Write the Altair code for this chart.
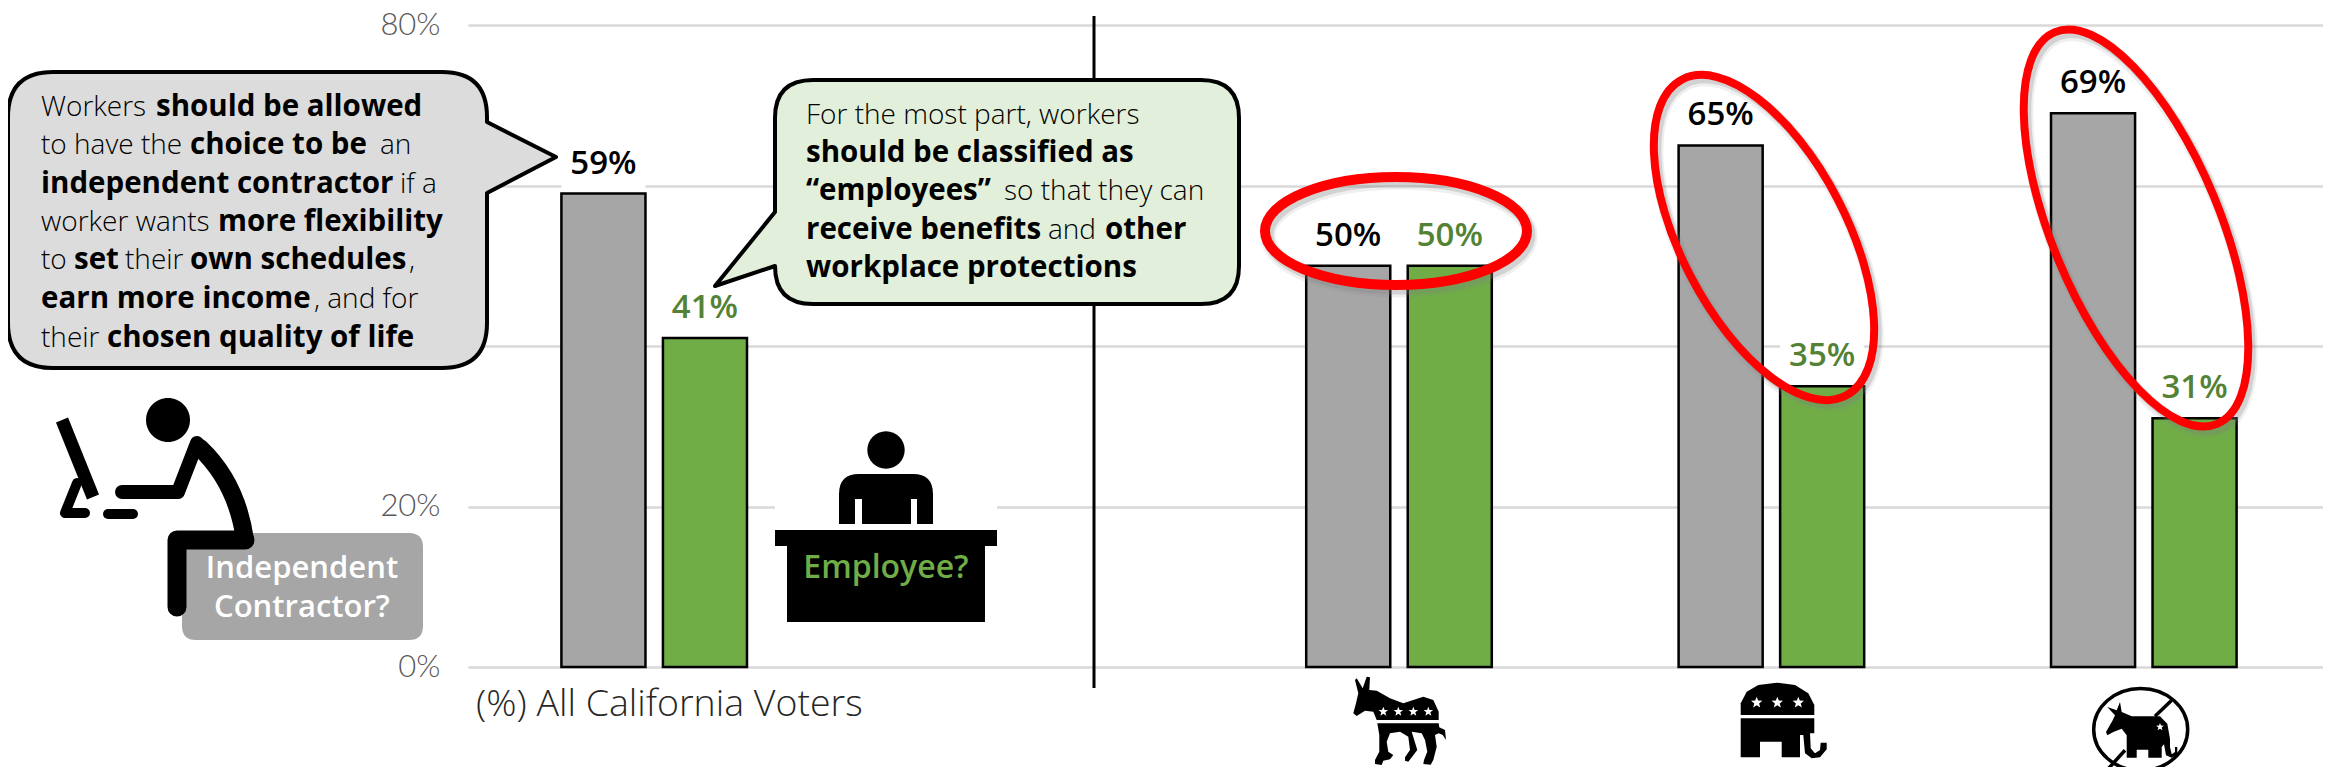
import math
import altair as alt

# ---- data ----
groups = ["All California Voters", "gap", "Democrats", "Republicans", "No Party"]
shown = ["All California Voters", "Democrats", "Republicans", "No Party"]
independent = [59, 50, 65, 69]
employee = [41, 50, 35, 31]
series = ["Independent Contractor", "Employee"]
ticks = [0, 20, 40, 60, 80]
axis_note = "(%) All California Voters"

rows = []
for g, a, b in zip(shown, independent, employee):
    rows.append({"group": g, "series": series[0], "value": a, "top": a + 6})
    rows.append({"group": g, "series": series[1], "value": b, "top": b + 6})

FONT = "Open Sans"
AXIS_FONT = "Lato"
OX, OY = 468, 25
GRAY, GREEN, GREEN_TXT = "#a6a6a6", "#70ad47", "#548235"
dummy = alt.Data(values=[{"k": 0}])

x = alt.X("group:N", scale=alt.Scale(domain=groups, paddingInner=0, paddingOuter=0, range=[0, 1862]),
          axis=alt.Axis(labels=False, ticks=False, domain=False, title=None, grid=False))
xo = alt.XOffset("series:N", scale=alt.Scale(domain=series, paddingInner=0.172, paddingOuter=0.92))
y = alt.Y("value:Q", scale=alt.Scale(domain=[0, 80], nice=False),
          axis=alt.Axis(values=ticks, title=None, domain=False, ticks=False, grid=True,
                        gridColor="#d9d9d9", gridWidth=2.5, labelExpr="datum.value + '%'",
                        labelFont=AXIS_FONT, labelFontSize=31, labelFontWeight=300, labelColor="#595959",
                        labelPadding=28))


def shape(path, fill=None, stroke=None, sw=0, opacity=1.0, cap=None, dx=0, dy=0):
    """A freeform drawn in reference pixel coordinates (size 4 = unit scale)."""
    kw = dict(shape=path, size=4, opacity=opacity, filled=fill is not None, strokeJoin="round")
    if fill is not None:
        kw["fill"] = fill
    if stroke is not None:
        kw["stroke"] = stroke
        kw["strokeWidth"] = sw
    else:
        kw["strokeWidth"] = 0
    if cap:
        kw["strokeCap"] = cap
    return alt.Chart(dummy).mark_point(**kw).encode(x=alt.value(-OX + dx), y=alt.value(-OY + dy))


def line(pts, k=1.0, ox=0, oy=0):
    return "M" + "L".join(f"{ox + a * k:.1f},{oy + b * k:.1f}" for a, b in pts)


def poly(pts, k=1.0, ox=0, oy=0):
    return line(pts, k, ox, oy) + "Z"


def circle(cx, cy, rx, ry=None):
    ry = ry or rx
    c = 0.5523
    return (f"M{cx - rx},{cy}C{cx - rx},{cy - c * ry} {cx - c * rx},{cy - ry} {cx},{cy - ry}"
            f"C{cx + c * rx},{cy - ry} {cx + rx},{cy - c * ry} {cx + rx},{cy}"
            f"C{cx + rx},{cy + c * ry} {cx + c * rx},{cy + ry} {cx},{cy + ry}"
            f"C{cx - c * rx},{cy + ry} {cx - rx},{cy + c * ry} {cx - rx},{cy}Z")


def star(cx, cy, r):
    pts = []
    for i in range(10):
        t = -math.pi / 2 + i * math.pi / 5
        q = r if i % 2 == 0 else r * 0.42
        pts.append((cx + q * math.cos(t), cy + q * math.sin(t)))
    return poly(pts)


def rrect(l, t, r, b, q):
    return (f"M{l + q},{t}L{r - q},{t}Q{r},{t} {r},{t + q}L{r},{b - q}Q{r},{b} {r - q},{b}"
            f"L{l + q},{b}Q{l},{b} {l},{b - q}L{l},{t + q}Q{l},{t} {l + q},{t}Z")


def label(txt, px, py, size=28, weight=400, color="#000000", align="left", font=FONT):
    return alt.Chart(dummy).mark_text(text=txt, font=font, fontSize=size, fontWeight=weight,
                                      color=color, align=align, baseline="alphabetic").encode(
        x=alt.value(px - OX), y=alt.value(py - OY))


def run(px, py, t, bold):
    return label(t, px, py, size=29.5 if bold else 28, weight=700 if bold else 300)


def ellipse(cx, cy, a, b, angle, color, sw, opacity=1.0):
    c = 0.5523
    r = b / a
    path = (f"M{-r:.4f},0C{-r:.4f},{-c} {-c * r:.4f},-1 0,-1C{c * r:.4f},-1 {r:.4f},{-c} {r:.4f},0"
            f"C{r:.4f},{c} {c * r:.4f},1 0,1C{-c * r:.4f},1 {-r:.4f},{c} {-r:.4f},0Z")
    return alt.Chart(dummy).mark_point(shape=path, size=(2 * a) ** 2, angle=angle, filled=False,
                                       stroke=color, strokeWidth=sw, opacity=opacity).encode(
        x=alt.value(cx - OX), y=alt.value(cy - OY))


layers = []

# divider
layers.append(alt.Chart(dummy).mark_rule(color="#000000", strokeWidth=3).encode(
    x=alt.value(1094 - OX), y=alt.value(16 - OY), y2=alt.value(688 - OY)))

# white plate behind data labels, bars, data labels
base = alt.Chart(alt.Data(values=rows))
layers.append(base.mark_bar(color="#ffffff", strokeWidth=0).encode(x=x, xOffset=xo, y=y, y2="top:Q"))
layers.append(base.mark_bar(stroke="#000000", strokeWidth=2.5).encode(
    x=x, xOffset=xo, y=y,
    color=alt.Color("series:N", scale=alt.Scale(domain=series, range=[GRAY, GREEN]), legend=None)))
layers.append(base.transform_calculate(lab="datum.value + '%'").mark_text(
    font=FONT, fontSize=33, fontWeight=600, baseline="alphabetic", dy=-20).encode(
    x=x, xOffset=xo, y=y, text="lab:N",
    color=alt.condition("datum.series === 'Employee'", alt.value(GREEN_TXT), alt.value("#000000"))))

# bubble 1
b1 = ("M53,72L442,72Q487,72 487,117L487,122L556,157L487,193L487,323Q487,368 442,368"
      "L53,368Q8,368 8,323L8,117Q8,72 53,72Z")
layers.append(shape(b1, fill="#dcdcdc", stroke="#000000", sw=4))
b1_text = [
    (41, 116, "Workers", False), (156, 116, "should be allowed", True),
    (41, 154, "to have the", False), (190, 154, "choice to be", True), (380, 154, "an", False),
    (41, 193, "independent contractor", True), (400, 193, "if a", False),
    (41, 231, "worker wants", False), (218, 231, "more flexibility", True),
    (41, 269, "to", False), (74, 269, "set", True), (125, 269, "their", False),
    (190, 269, "own schedules", True), (409, 269, ",", False),
    (41, 308, "earn more income", True), (314, 308, ", and for", False),
    (41, 347, "their", False), (107, 347, "chosen quality of life", True),
]
for item in b1_text:
    layers.append(run(*item))

# bubble 2
b2 = ("M813,80L1201,80Q1239,80 1239,118L1239,266Q1239,304 1201,304L813,304Q775,304 775,266"
      "L715,286L775,212L775,118Q775,80 813,80Z")
layers.append(shape(b2, fill="#e2efda", stroke="#000000", sw=4))
b2_text = [
    (806, 124, "For the most part, workers", False),
    (806, 162, "should be classified as", True),
    (806, 200, "\u201cemployees\u201d", True), (1004, 200, "so that they can", False),
    (806, 239, "receive benefits", True), (1048, 239, "and", False), (1105, 239, "other", True),
    (806, 277, "workplace protections", True),
]
for item in b2_text:
    layers.append(run(*item))

# contractor pill + person
layers.append(shape(rrect(182, 533, 423, 640, 14), fill=GRAY))
layers.append(shape(circle(168, 420, 22), fill="#000000"))
layers.append(shape(line([(62, 420), (93, 497)]), stroke="#000000", sw=13))
layers.append(shape(line([(77, 483), (65, 513), (85, 513)]), stroke="#000000", sw=10, cap="round"))
layers.append(shape(line([(108, 514), (133, 514)]), stroke="#000000", sw=10, cap="round"))
layers.append(shape(line([(122, 492), (178, 492), (197, 443)]), stroke="#000000", sw=14, cap="round"))
layers.append(shape("M200,448Q237,483 245,540", stroke="#000000", sw=18, cap="round"))
layers.append(shape(line([(245, 540), (177, 540), (177, 607)]), stroke="#000000", sw=19, cap="round"))
layers.append(label("Independent", 302, 578, size=31, weight=600, color="#ffffff", align="center"))
layers.append(label("Contractor?", 302, 617, size=31, weight=600, color="#ffffff", align="center"))

# employee at desk
layers.append(shape(rrect(775, 428, 997, 546, 0), fill="#ffffff"))
layers.append(shape(circle(886, 450, 18.7), fill="#000000"))
layers.append(shape("M839,524L839,494Q839,474 859,474L913,474Q933,474 933,494L933,524L917,524L917,499"
                    "L911,499L911,524L862,524L862,499L855,499L855,524Z", fill="#000000"))
layers.append(shape(poly([(775, 530), (997, 530), (997, 546), (985, 546), (985, 622), (787, 622),
                          (787, 546), (775, 546)]), fill="#000000"))
layers.append(label("Employee?", 886, 578, size=32, weight=600, color=GREEN, align="center"))

# axis note
layers.append(label(axis_note, 476, 716, size=37.5, weight=300, color="#262626"))

# highlight ellipses: soft shadow, then red stroke
for cx, cy, a, b, ang, sw in [(1396, 231, 131, 54, 90, 10),
                              (1764, 237.5, 178, 83, 332.6, 8),
                              (2136, 228, 212, 84, 337.5, 8)]:
    layers.append(ellipse(cx + 3, cy + 5, a, b, ang, "#7f7f7f", sw + 5, 0.12))
    layers.append(ellipse(cx + 3, cy + 4, a, b, ang, "#7f7f7f", sw + 1, 0.25))
    layers.append(ellipse(cx, cy, a, b, ang, "#ff0000", sw))

# donkey
k, ox, oy = 1 / 3, 1340, 670
layers.append(shape(poly([(40, 130), (48, 100), (55, 70), (45, 30), (50, 25), (68, 55), (80, 20), (90, 22),
                          (88, 60), (110, 62), (150, 85), (190, 100), (220, 90), (250, 80), (280, 90),
                          (296, 125), (296, 150), (110, 150), (100, 125), (75, 122), (50, 138)], k, ox, oy),
                    fill="#000000"))
layers.append(shape(poly([(112, 160), (296, 160), (298, 172), (315, 180), (318, 210), (308, 195), (296, 190),
                          (285, 195), (290, 230), (280, 270), (272, 284), (250, 282), (252, 270), (262, 245),
                          (255, 210), (245, 190), (215, 185), (232, 240), (205, 275), (195, 272), (195, 262),
                          (210, 240), (205, 200), (180, 185), (150, 190), (140, 215), (145, 245), (160, 255),
                          (150, 268), (130, 272), (125, 285), (105, 282), (105, 270), (118, 245), (118, 195)],
                         k, ox, oy), fill="#000000"))
for sx in (130, 175, 220, 265):
    layers.append(shape(star(ox + sx * k, oy + 125 * k, 5), fill="#ffffff"))

# elephant
ox = 1720
layers.append(shape(poly([(62, 135), (62, 100), (80, 65), (115, 45), (170, 38), (225, 45), (265, 70),
                          (283, 105), (283, 135)], k, ox, oy), fill="#000000"))
layers.append(shape(poly([(62, 145), (240, 145), (283, 145), (283, 190), (270, 190), (272, 235), (285, 250), (300, 240),
                          (302, 218), (320, 218), (320, 238), (300, 262), (275, 265), (255, 250), (250, 195),
                          (240, 195), (240, 262), (185, 262), (185, 215), (120, 215), (120, 262), (62, 262)],
                         k, ox, oy), fill="#000000"))
for sx in (110, 172, 235):
    layers.append(shape(star(ox + sx * k, oy + 98 * k, 6), fill="#ffffff"))

# neither party (kept just inside the bottom of the page)
ox, oy = 2080, 667
layers.append(shape(circle(2140.7, 729.5, 47, 41), stroke="#000000", sw=3.5))
layers.append(shape(line([(275, 100), (225, 148)], k, ox, oy), stroke="#000000", sw=3.5))
layers.append(shape(line([(135, 250), (85, 305)], k, ox, oy), stroke="#000000", sw=3.5))
layers.append(shape(poly([(82, 120), (110, 130), (120, 105), (125, 135), (155, 148), (240, 148), (262, 170),
                          (270, 215), (270, 240), (275, 262), (285, 255), (285, 240), (292, 240), (292, 262),
                          (275, 272), (258, 265), (252, 232), (245, 240), (245, 272), (205, 272), (205, 248),
                          (170, 248), (170, 272), (140, 272), (140, 205), (125, 185), (100, 195), (82, 205),
                          (78, 195), (98, 160), (105, 145)], k, ox, oy), fill="#000000"))
layers.append(shape(star(ox + 240 * k, oy + 180 * k, 4), fill="#ffffff"))

chart = alt.layer(*layers).properties(
    width=1855, height=642,
    autosize=alt.AutoSizeParams(type="none"),
    padding={"left": 460, "top": 17, "right": 0, "bottom": 100},
).configure_view(stroke=None)

chart.save("out.html", embed_options={"renderer": "svg", "actions": False})
